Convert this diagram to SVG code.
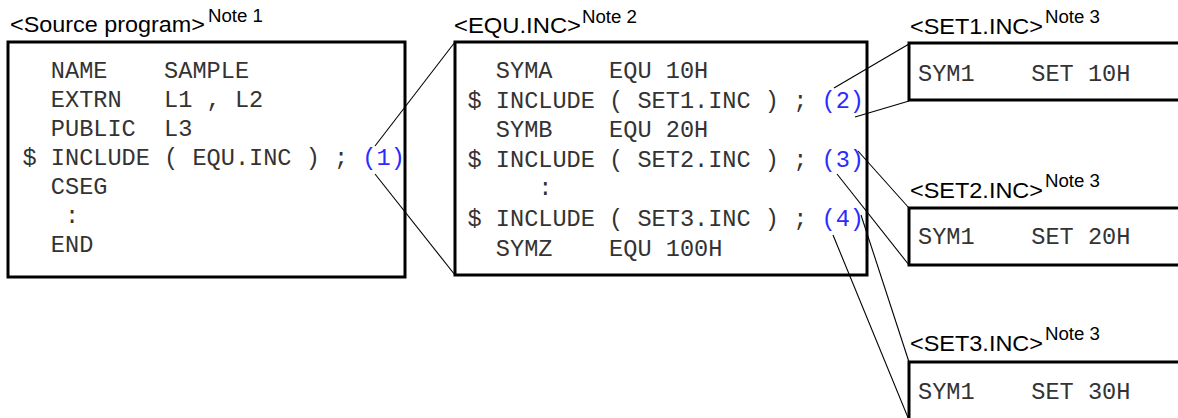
<svg xmlns="http://www.w3.org/2000/svg" width="1178" height="418" viewBox="0 0 1178 418">
<style>
.box{fill:#fff;stroke:#000;stroke-width:3}
.lbl{font-family:"Liberation Sans",Arial,sans-serif;font-size:22.5px;fill:#000}
.note{font-family:"Liberation Sans",Arial,sans-serif;font-size:17.5px;fill:#000}
.code{font-family:"Courier New","Liberation Mono",monospace;font-size:23.6px;fill:#333;white-space:pre}
.num{fill:#2b2bff}
.conn line{stroke:#000;stroke-width:1.1;fill:none}
</style>
<rect width="1178" height="418" fill="#fff"/>
<g id="node-source" xml:space="preserve">
<text class="lbl" x="10" y="32" textLength="195" lengthAdjust="spacingAndGlyphs">&lt;Source program&gt;</text>
<text class="note" x="208" y="22" textLength="55" lengthAdjust="spacingAndGlyphs">Note 1</text>
<rect class="box" x="8" y="42" width="397" height="235"/>
<text class="code" x="22.5" y="78">  NAME    SAMPLE</text>
<text class="code" x="22.5" y="107">  EXTRN   L1 , L2</text>
<text class="code" x="22.5" y="136">  PUBLIC  L3</text>
<text class="code" x="22.5" y="165">$ INCLUDE ( EQU.INC ) ; <tspan class="num">(1)</tspan></text>
<text class="code" x="22.5" y="194">  CSEG</text>
<text class="code" x="22.5" y="223">   :</text>
<text class="code" x="22.5" y="252">  END</text>
</g>
<g id="node-equ" xml:space="preserve">
<text class="lbl" x="454" y="33" textLength="127" lengthAdjust="spacingAndGlyphs">&lt;EQU.INC&gt;</text>
<text class="note" x="582" y="23" textLength="55" lengthAdjust="spacingAndGlyphs">Note 2</text>
<rect class="box" x="455" y="42" width="412" height="233"/>
<text class="code" x="467.5" y="78">  SYMA    EQU 10H</text>
<text class="code" x="467.5" y="107.6">$ INCLUDE ( SET1.INC ) ; <tspan class="num">(2)</tspan></text>
<text class="code" x="467.5" y="137.2">  SYMB    EQU 20H</text>
<text class="code" x="467.5" y="166.8">$ INCLUDE ( SET2.INC ) ; <tspan class="num">(3)</tspan></text>
<text class="code" x="467.5" y="195">     :</text>
<text class="code" x="467.5" y="226">$ INCLUDE ( SET3.INC ) ; <tspan class="num">(4)</tspan></text>
<text class="code" x="467.5" y="255.6">  SYMZ    EQU 100H</text>
</g>
<g id="node-set1" xml:space="preserve">
<text class="lbl" x="910" y="34" textLength="133" lengthAdjust="spacingAndGlyphs">&lt;SET1.INC&gt;</text>
<text class="note" x="1045" y="23" textLength="55" lengthAdjust="spacingAndGlyphs">Note 3</text>
<rect class="box" x="909" y="43" width="300" height="57"/>
<text class="code" x="918" y="81">SYM1    SET 10H</text>
</g>
<g id="node-set2" xml:space="preserve">
<text class="lbl" x="910" y="198" textLength="133" lengthAdjust="spacingAndGlyphs">&lt;SET2.INC&gt;</text>
<text class="note" x="1045" y="187" textLength="55" lengthAdjust="spacingAndGlyphs">Note 3</text>
<rect class="box" x="909" y="208" width="300" height="57"/>
<text class="code" x="918" y="244">SYM1    SET 20H</text>
</g>
<g id="node-set3" xml:space="preserve">
<text class="lbl" x="910" y="351" textLength="133" lengthAdjust="spacingAndGlyphs">&lt;SET3.INC&gt;</text>
<text class="note" x="1045" y="340" textLength="55" lengthAdjust="spacingAndGlyphs">Note 3</text>
<rect class="box" x="909" y="362" width="300" height="80"/>
<text class="code" x="918" y="399">SYM1    SET 30H</text>
</g>
<g id="connectors" class="conn">
<line x1="375" y1="146" x2="455" y2="42"/>
<line x1="375" y1="174" x2="455" y2="275"/>
<line x1="834" y1="88" x2="909" y2="44"/>
<line x1="855" y1="117" x2="909" y2="101"/>
<line x1="858" y1="151" x2="909" y2="208"/>
<line x1="837" y1="174" x2="909" y2="265"/>
<line x1="861" y1="215" x2="909" y2="362"/>
<line x1="833" y1="235" x2="909" y2="420"/>
</g>
</svg>
